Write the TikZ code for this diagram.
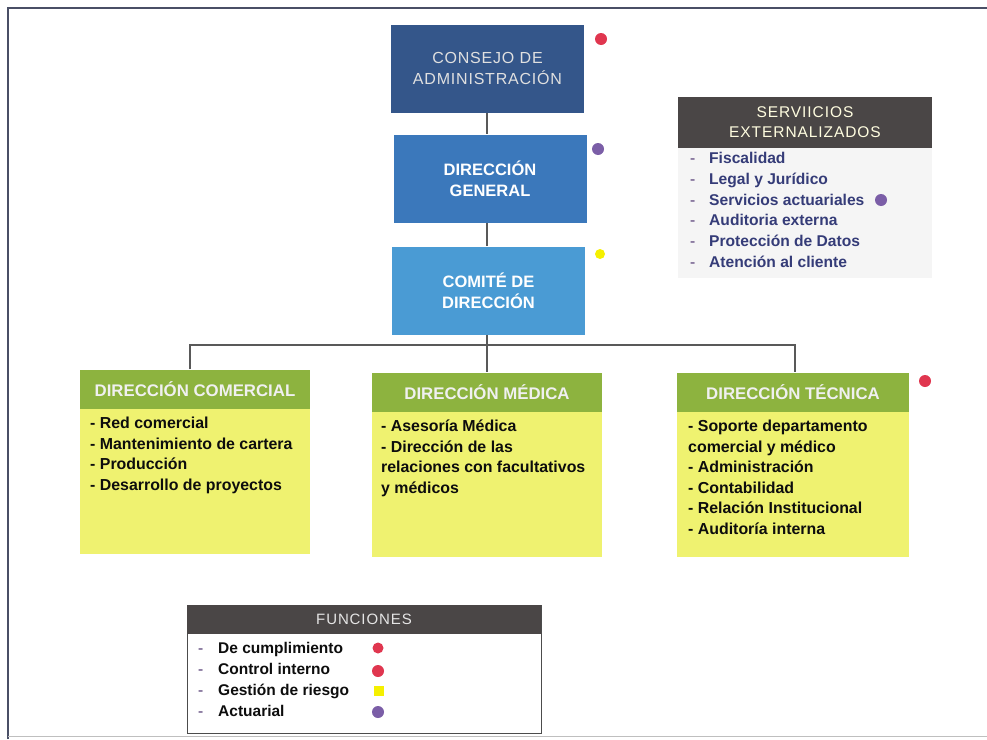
\documentclass[tikz,border=0pt]{standalone}
\usepackage{fontspec}
\setmainfont{Liberation Sans}
\definecolor{consejoc}{HTML}{34568A}
\definecolor{dgc}{HTML}{3B78BB}
\definecolor{comitec}{HTML}{4A9BD4}
\definecolor{headgreen}{HTML}{8DB33F}
\definecolor{bodyyellow}{HTML}{EFF270}
\definecolor{darkhead}{HTML}{4A4646}
\definecolor{framec}{HTML}{4A4F66}
\definecolor{dotred}{HTML}{E0364F}
\definecolor{dotpurple}{HTML}{7B5EA7}
\definecolor{dotyellow}{HTML}{F5F000}
\definecolor{servtext}{HTML}{353C78}
\definecolor{dashc}{HTML}{8A7AA0}
\begin{document}
\begin{tikzpicture}[x=1pt,y=-1pt,
  topbox/.style={minimum width=193pt, minimum height=88pt, inner sep=0pt, align=center,
    text=white, font=\fontsize{16.5}{21}\selectfont\bfseries},
  depthead/.style={fill=headgreen, minimum width=230pt, minimum height=39pt, inner sep=0pt,
    text=white!94!black, font=\fontsize{16.8}{20}\selectfont\bfseries},
  deptbody/.style={fill=bodyyellow, minimum width=230pt, minimum height=145pt, inner sep=0pt},
  itemtext/.style={anchor=base west, inner sep=0pt, text=black!95,
    font=\fontsize{15.9}{20.5}\selectfont\bfseries},
  darkbar/.style={fill=darkhead, inner sep=0pt, align=center},
  dot/.style={circle, fill=#1, minimum size=12pt, inner sep=0pt},
  link/.style={draw=black!65, line width=1.2pt}
]
\useasboundingbox (0,0) rectangle (987,739);
% frame
\draw[framec, line width=2pt] (8,739) -- (8,8) -- (987,8);
\draw[black!25, line width=1pt] (8,736) -- (987,736);

% top hierarchy
\node[topbox, fill=consejoc, text=black!12, font=\fontsize{16}{21}\selectfont\addfontfeature{LetterSpace=5}] (consejo) at (487.5,68.5) {CONSEJO DE\\ADMINISTRACIÓN};
\node[topbox, fill=dgc] (dg) at (490,178.5) {DIRECCIÓN\\GENERAL};
\node[topbox, fill=comitec] (comite) at (488.5,290.5) {COMITÉ DE\\DIRECCIÓN};
\node[dot=dotred] (d1) at (601,39) {};
\node[dot=dotpurple] (d2) at (598,149) {};
\node[dot=dotyellow, minimum size=10pt] (d3) at (600,254) {};

% departments
\node[depthead] (comh) at (195,389) {DIRECCIÓN COMERCIAL};
\node[deptbody, anchor=north] (comb) at (comh.south) {};
\node[depthead] (medh) at (487,392) {DIRECCIÓN MÉDICA};
\node[deptbody, anchor=north] (medb) at (medh.south) {};
\node[depthead, minimum width=232pt] (tech) at (793,392) {DIRECCIÓN TÉCNICA};
\node[deptbody, minimum width=232pt, anchor=north] (tecb) at (tech.south) {};
\node[dot=dotred] (d4) at (925,381) {};

\node[itemtext] (comitems) at (90,428.5) {\parbox[t]{218pt}{\raggedright
- Red comercial\\- Mantenimiento de cartera\\- Producción\\- Desarrollo de proyectos}};
\node[itemtext] (meditems) at (381,431.5) {\parbox[t]{218pt}{\raggedright
- Asesoría Médica\\- Dirección de las\\relaciones con facultativos\\y médicos}};
\node[itemtext] (tecitems) at (688,431.5) {\parbox[t]{218pt}{\raggedright
- Soporte departamento\\comercial y médico\\- Administración\\- Contabilidad\\- Relación Institucional\\- Auditoría interna}};

% connectors
\coordinate (bus) at (487,345);
\draw[link] (consejo.south -| bus) -- (dg.north -| bus);
\draw[link] (dg.south -| bus) -- (comite.north -| bus);
\draw[link] (comite.south -| bus) -- (bus);
\draw[link] ([xshift=-5pt]comh.north) |- (bus) -| ([xshift=2pt]tech.north);
\draw[link] (bus) -- (medh.north);

% servicios externalizados
\node[fill=black!4, minimum width=254pt, minimum height=130pt, inner sep=0pt, anchor=north] (servb) at (805,148) {};
\node[darkbar, minimum width=254pt, minimum height=51pt, text=white!88!yellow,
  font=\fontsize{15.5}{20}\selectfont\addfontfeature{LetterSpace=6}] (servh) at (805,122.5) {SERVIICIOS\\EXTERNALIZADOS};
\node[itemtext, text=servtext] (servitems) at (690,163.5) {\parbox[t]{230pt}{\raggedright\fontsize{15.6}{20.8}\selectfont
\makebox[19pt][l]{\textcolor{dashc}{-}}Fiscalidad\\
\makebox[19pt][l]{\textcolor{dashc}{-}}Legal y Jurídico\\
\makebox[19pt][l]{\textcolor{dashc}{-}}Servicios actuariales\\
\makebox[19pt][l]{\textcolor{dashc}{-}}Auditoria externa\\
\makebox[19pt][l]{\textcolor{dashc}{-}}Protección de Datos\\
\makebox[19pt][l]{\textcolor{dashc}{-}}Atención al cliente}};
\node[dot=dotpurple] (d5) at (881,200) {};

% funciones
\node[draw=black!70, line width=1pt, fill=white, minimum width=354pt, minimum height=128pt, inner sep=0pt, anchor=north] (funcb) at (364,605) {};
\node[darkbar, minimum width=354pt, minimum height=29pt, anchor=north, text=black!10,
  font=\fontsize{15}{18}\selectfont\addfontfeature{LetterSpace=6}] (funch) at (364,605) {FUNCIONES};
\node[itemtext] (funcitems) at (198,653.5) {\parbox[t]{160pt}{\raggedright\fontsize{15.5}{21}\selectfont
\makebox[20pt][l]{\textcolor{dashc}{-}}De cumplimiento\\
\makebox[20pt][l]{\textcolor{dashc}{-}}Control interno\\
\makebox[20pt][l]{\textcolor{dashc}{-}}Gestión de riesgo\\
\makebox[20pt][l]{\textcolor{dashc}{-}}Actuarial}};
\node[dot=dotred, minimum size=11pt] (f1) at (378,648) {};
\node[dot=dotred] (f2) at (378,671) {};
\node[fill=dotyellow, minimum size=10pt, inner sep=0pt] (f3) at (379,691) {};
\node[dot=dotpurple] (f4) at (378,712) {};
\end{tikzpicture}
\end{document}
